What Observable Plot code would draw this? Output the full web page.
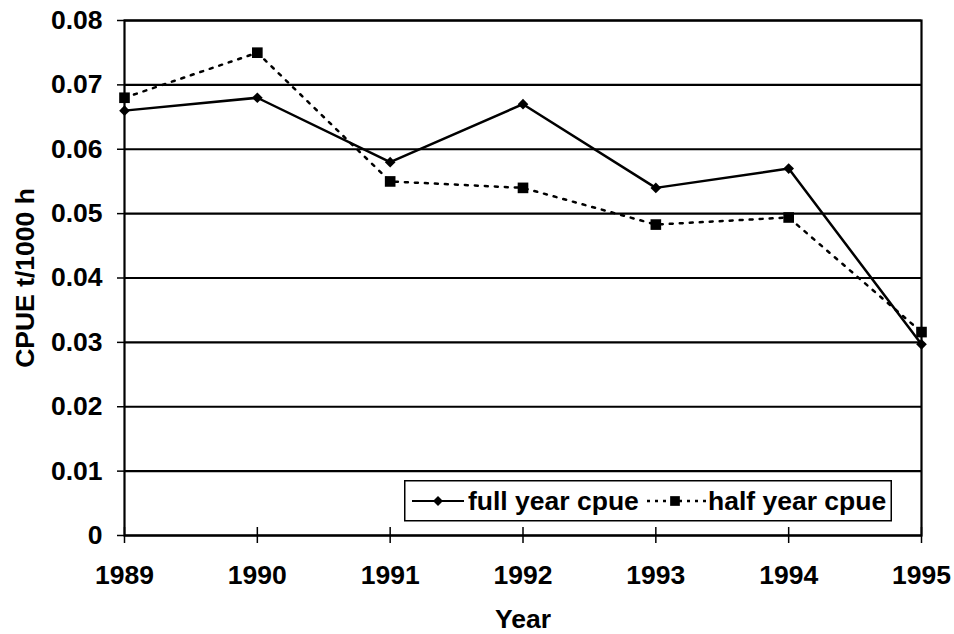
<!DOCTYPE html>
<html>
<head>
<meta charset="utf-8">
<script src="https://cdn.jsdelivr.net/npm/d3@7"></script>
<script src="https://cdn.jsdelivr.net/npm/@observablehq/plot@0.6"></script>
<style>
  html, body { margin: 0; padding: 0; background: white; }
  #wrap { position: relative; width: 954px; height: 634px; }
  #legend { position: absolute; left: 404px; top: 480px; }
</style>
</head>
<body>
<div id="wrap"></div>
<script>
const years = [1989, 1990, 1991, 1992, 1993, 1994, 1995];
const fullYear = [0.066, 0.068, 0.058, 0.067, 0.054, 0.057, 0.0297];
const halfYear = [0.068, 0.075, 0.055, 0.054, 0.0483, 0.0494, 0.0316];
const yTicks = [0, 0.01, 0.02, 0.03, 0.04, 0.05, 0.06, 0.07, 0.08];
const seriesNames = ["full year cpue", "half year cpue"];

const full = years.map((y, i) => ({year: y, value: fullYear[i]}));
const half = years.map((y, i) => ({year: y, value: halfYear[i]}));

const font = '"Liberation Sans", Arial, Helvetica, sans-serif';
const fs = 26.5;

const chart = Plot.plot({
  width: 954,
  height: 634,
  marginLeft: 124,
  marginRight: 33,
  marginTop: 20,
  marginBottom: 99,
  style: {fontFamily: font, fontSize: fs + "px", fontWeight: "bold", color: "black", background: "white"},
  x: {domain: [1989, 1995]},
  y: {domain: [0, 0.08]},
  marks: [
    Plot.ruleY(yTicks, {stroke: "black", strokeWidth: 2.2}),
    Plot.frame({stroke: "black", strokeWidth: 2.2}),
    Plot.ruleX(years, {x: d => d, y1: 0, y2: 0, insetTop: -8, stroke: "black", strokeWidth: 1.5}),
    Plot.axisX({ticks: years, tickFormat: d => String(d), tickSize: 8, tickPadding: 22, fontSize: fs,
      strokeWidth: 1.5, label: "Year", labelAnchor: "center", labelArrow: "none", labelOffset: 92}),
    Plot.axisY({ticks: yTicks, tickFormat: d => d === 0 ? "0" : d.toFixed(2), tickSize: 7, tickPadding: 15, fontSize: fs,
      strokeWidth: 1.5, label: "CPUE t/1000 h", labelAnchor: "center", labelArrow: "none", labelOffset: 109}),
    Plot.line(half, {x: "year", y: "value", stroke: "black", strokeWidth: 2.5, strokeDasharray: "3,7"}),
    Plot.line(full, {x: "year", y: "value", stroke: "black", strokeWidth: 2.5}),
    Plot.dot(half, {x: "year", y: "value", symbol: "square", r: 6.0, fill: "black"}),
    Plot.dot(full, {x: "year", y: "value", symbol: "diamond2", r: 4.8, fill: "black"})
  ]
});
document.getElementById("wrap").appendChild(chart);

// Legend overlay
const lg = d3.select("#wrap").append("svg")
  .attr("id", "legend")
  .attr("width", 489).attr("height", 42)
  .style("font-family", font).style("font-weight", "bold").style("font-size", fs + "px");
lg.append("rect").attr("x", 0.75).attr("y", 0.75).attr("width", 486.5).attr("height", 40)
  .attr("fill", "white").attr("stroke", "black").attr("stroke-width", 1.5);
// solid sample
lg.append("line").attr("x1", 8).attr("x2", 60).attr("y1", 21).attr("y2", 21).attr("stroke", "black").attr("stroke-width", 2);
lg.append("path").attr("d", d3.symbol(d3.symbolDiamond2, Math.PI * 20)()).attr("transform", "translate(34,21)").attr("fill", "black");
lg.append("text").attr("x", 64).attr("y", 30).text(seriesNames[0]);
// dotted sample
lg.append("line").attr("x1", 243).attr("x2", 302).attr("y1", 21).attr("y2", 21).attr("stroke", "black").attr("stroke-width", 2.5).attr("stroke-dasharray", "3,5");
lg.append("path").attr("d", d3.symbol(d3.symbolSquare, Math.PI * 30)()).attr("transform", "translate(271,21)").attr("fill", "black");
lg.append("text").attr("x", 304).attr("y", 30).text(seriesNames[1]);
</script>
</body>
</html>
